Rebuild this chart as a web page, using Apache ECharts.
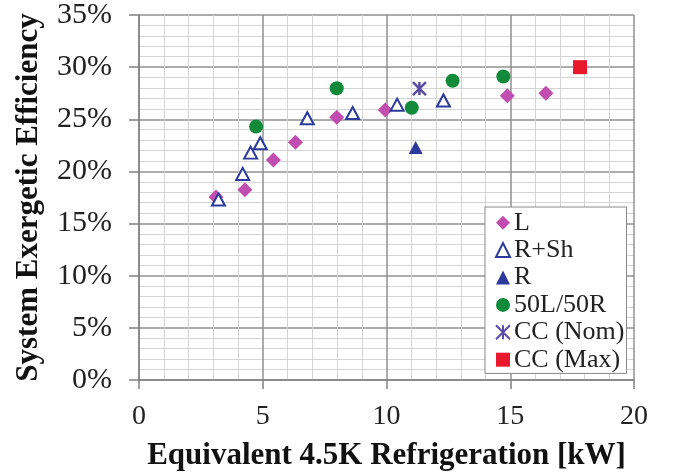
<!DOCTYPE html>
<html>
<head>
<meta charset="utf-8">
<script src="https://cdn.jsdelivr.net/npm/echarts@6/dist/echarts.min.js"></script>
<style>html,body{margin:0;padding:0;background:#fff}#c{width:680px;height:476px}</style>
</head>
<body>
<div id="c"></div>
<script>
var xTicks = [0, 5, 10, 15, 20];
var yTicks = [0, 5, 10, 15, 20, 25, 30, 35];
var seriesNames = ['L', 'R+Sh', 'R', '50L/50R', 'CC (Nom)', 'CC (Max)'];
var dataL = [[3.11,17.55],[4.28,18.25],[5.43,21.1],[6.32,22.8],[7.99,25.2],[9.95,25.9],[14.88,27.25],[16.44,27.5]];
var dataRSh = [[3.21,17.3],[4.19,19.76],[4.51,21.8],[4.90,22.7],[6.80,25.1],[8.63,25.6],[10.43,26.4],[12.30,26.8]];
var dataR = [[11.18,22.3]];
var data50 = [[4.73,24.3],[7.99,27.98],[11.02,26.1],[12.67,28.7],[14.72,29.1]];
var dataCCNom = [[11.33,27.95]];
var dataCCMax = [[17.82,30.0]];

var serif = 'Liberation Serif';
var chart = echarts.init(document.getElementById('c'));
var starPath = 'path://M0,0L10,10M10,0L0,10M5,0L5,10';
chart.setOption({
  animation: false,
  backgroundColor: '#fff',
  grid: {left: 139, right: 46, top: 13, bottom: 93.5},
  legend: {
    orient: 'vertical', left: 485, top: 207,
    backgroundColor: '#fff', borderColor: '#888', borderWidth: 1,
    padding: [2, 2, 0, 10], itemGap: 0, itemWidth: 14, itemHeight: 14,
    textStyle: {fontFamily: serif, fontSize: 26, color: '#222', lineHeight: 27.4, padding: [0,0,0,-1]},
    data: seriesNames
  },
  xAxis: {
    type: 'value', min: xTicks[0], max: xTicks[xTicks.length-1], interval: 5,
    name: 'Equivalent 4.5K Refrigeration [kW]', nameLocation: 'middle', nameGap: 60,
    nameTextStyle: {fontFamily: serif, fontSize: 31, fontWeight: 'bold', color: '#111'},
    axisLine: {lineStyle: {color: '#808080', width: 1.5}},
    axisTick: {show: true, inside: false, length: 9, lineStyle: {color: '#808080', width: 1.5}},
    axisLabel: {fontFamily: serif, fontSize: 28, color: '#222', margin: 23},
    splitLine: {show: true, lineStyle: {color: '#909090', width: 1.5}},
    minorTick: {show: false, splitNumber: 5},
    minorSplitLine: {show: true, lineStyle: {color: '#d4d4d4', width: 1}}
  },
  yAxis: {
    type: 'value', min: yTicks[0], max: yTicks[yTicks.length-1], interval: 5,
    name: 'System Exergetic Efficiency', nameLocation: 'middle', nameGap: 95, nameRotate: 90,
    nameTextStyle: {fontFamily: serif, fontSize: 31, fontWeight: 'bold', color: '#111'},
    axisLine: {show: true, lineStyle: {color: '#808080', width: 1.5}},
    axisTick: {show: true, inside: false, length: 10, lineStyle: {color: '#808080', width: 1.5}},
    axisLabel: {fontFamily: serif, fontSize: 30, color: '#222', margin: 27, formatter: '{value}%'},
    splitLine: {show: true, lineStyle: {color: '#909090', width: 1.5}},
    minorTick: {show: false, splitNumber: 5},
    minorSplitLine: {show: true, lineStyle: {color: '#d4d4d4', width: 1}}
  },
  series: [
    {name: 'L', type: 'scatter', data: dataL, symbol: 'diamond', symbolSize: [15, 15],
     itemStyle: {color: '#C24DB0', opacity: 1}},
    {name: 'R+Sh', type: 'scatter', data: dataRSh, symbol: 'triangle', symbolSize: [13, 12],
     itemStyle: {color: '#ffffff', borderColor: '#2B3A9B', borderWidth: 2, opacity: 1}},
    {name: 'R', type: 'scatter', data: dataR, symbol: 'triangle', symbolSize: [14, 13],
     itemStyle: {color: '#2B3A9B', opacity: 1}},
    {name: '50L/50R', type: 'scatter', data: data50, symbol: 'circle', symbolSize: 14,
     itemStyle: {color: '#118A3A', opacity: 1}},
    {name: 'CC (Nom)', type: 'scatter', data: dataCCNom, symbol: starPath, symbolSize: 13,
     itemStyle: {color: 'rgba(0,0,0,0)', borderColor: '#5B4BA8', borderWidth: 2.5, opacity: 1}},
    {name: 'CC (Max)', type: 'scatter', data: dataCCMax, symbol: 'rect', symbolSize: 14,
     itemStyle: {color: '#E8192C', opacity: 1}}
  ]
});
</script>
</body>
</html>
